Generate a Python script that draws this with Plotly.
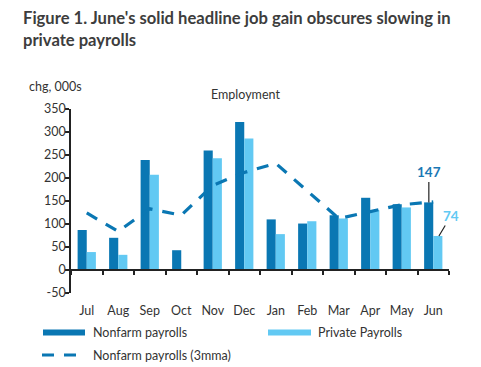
import plotly.graph_objects as go

months = ["Jul", "Aug", "Sep", "Oct", "Nov", "Dec", "Jan", "Feb", "Mar", "Apr", "May", "Jun"]
nonfarm = [87, 70, 239, 43, 260, 322, 110, 101, 119, 157, 143, 147]
private = [39, 33, 207, 0, 243, 286, 78, 106, 112, 130, 136, 74]
nonfarm_3mma = [124, 84, 133, 119, 184, 212, 232, 173, 112, 127, 142, 148]
y_ticks = [-50, 0, 50, 100, 150, 200, 250, 300, 350]
y_tick_labels = ["-50", "0", "50", "100", "150", "200", "250", "300", "350"]

DARK = "#0a77b3"
LIGHT = "#62c9f3"
TXT = "#333333"
FONT = "Lato"

# page body has an 8px margin; size the figure so it fills the rest of the 481x367 window
OFF = 8
W, H = 481 - OFF, 367 - OFF
ML, MT = 71 - OFF, 109 - OFF
MR = W - (449 - OFF)
MB = H - (293 - OFF)
PW, PH = W - ML - MR, H - MT - MB


def px(x):
    return (x - OFF - ML) / PW


def py(y):
    return (H - MB - (y - OFF)) / PH


fig = go.Figure()
fig.add_trace(go.Bar(x=months, y=nonfarm, name="Nonfarm payrolls", marker_color=DARK,
                     marker_line_width=0))
fig.add_trace(go.Bar(x=months, y=private, name="Private Payrolls", marker_color=LIGHT,
                     marker_line_width=0))
fig.add_trace(go.Scatter(x=months, y=nonfarm_3mma, name="Nonfarm payrolls (3mma)", mode="lines",
                         line=dict(color=DARK, width=3.2, dash="12px,10px")))

fig.update_layout(
    width=W, height=H,
    margin=dict(l=ML, r=MR, t=MT, b=MB),
    paper_bgcolor="white", plot_bgcolor="white",
    barmode="group", bargap=0.42, bargroupgap=0,
    showlegend=False,
    font=dict(family=FONT, size=12, color=TXT),
    xaxis=dict(type="category", range=[-0.5, 11.5], anchor="free", position=0.125,
               showline=True, linecolor="#222222", linewidth=1.5,
               ticks="outside", tickson="boundaries", ticklen=4, tickcolor="#222222",
               tickwidth=1.5, showgrid=False, zeroline=False, automargin=False, tickangle=0,
               ticklabelstandoff=29, tickfont=dict(size=12.5, color=TXT)),
    yaxis=dict(range=[-50, 350], tickvals=y_ticks, ticktext=y_tick_labels, showline=True,
               linecolor="#222222", automargin=False, ticklabelstandoff=-3,
               linewidth=1.5, ticks="outside", ticklen=4, tickcolor="#222222", tickwidth=1.5,
               showgrid=False, zeroline=False, tickfont=dict(size=12.5, color=TXT)),
)

ann = []
ann.append(dict(text="<b>Figure 1. June's solid headline job gain obscures slowing in<br>private payrolls</b>",
                x=px(21), y=py(6), xref="paper", yref="paper", xanchor="left", yanchor="top",
                align="left", showarrow=False,
                font=dict(family=FONT, size=16.6, color="#3d3d3d")))
ann.append(dict(text="chg, 000s", x=px(27), y=py(87), xref="paper", yref="paper",
                xanchor="left", yanchor="middle", showarrow=False, font=dict(size=12.5, color=TXT)))
ann.append(dict(text="Employment", x=px(245), y=py(94), xref="paper", yref="paper",
                xanchor="center", yanchor="middle", showarrow=False, font=dict(size=12.5, color=TXT)))
# data labels
ann.append(dict(text="<b>147</b>", x=10.86, y=nonfarm[-1], xref="x", yref="y", showarrow=True,
                arrowhead=0, arrowwidth=1.2, arrowcolor="#222222", ax=0, ay=-30,
                font=dict(size=13.5, color="#1a78b4")))
ann.append(dict(text="<b>74</b>", x=11.18, y=private[-1], xref="x", yref="y", showarrow=True,
                arrowhead=0, arrowwidth=1.2, arrowcolor="#222222", ax=12, ay=-20,
                font=dict(size=13.5, color=LIGHT)))

# legend (drawn)
shapes = []
shapes.append(dict(type="rect", xref="paper", yref="paper", x0=px(43), x1=px(85), y0=py(329.5), y1=py(335.5),
                   fillcolor=DARK, line_width=0))
shapes.append(dict(type="rect", xref="paper", yref="paper", x0=px(268), x1=px(311), y0=py(329.5), y1=py(335.5),
                   fillcolor=LIGHT, line_width=0))
shapes.append(dict(type="line", xref="paper", yref="paper", x0=px(42), x1=px(79), y0=py(355), y1=py(355),
                   line=dict(color=DARK, width=3.2, dash="12px,10px")))
ann.append(dict(text="Nonfarm payrolls", x=px(91), y=py(332.5), xref="paper", yref="paper",
                xanchor="left", yanchor="middle", showarrow=False, font=dict(size=12.5, color=TXT)))
ann.append(dict(text="Private Payrolls", x=px(316), y=py(332.5), xref="paper", yref="paper",
                xanchor="left", yanchor="middle", showarrow=False, font=dict(size=12.5, color=TXT)))
ann.append(dict(text="Nonfarm payrolls (3mma)", x=px(91), y=py(355), xref="paper", yref="paper",
                xanchor="left", yanchor="middle", showarrow=False, font=dict(size=12.5, color=TXT)))

fig.update_layout(annotations=ann, shapes=shapes)
fig.write_html("out.html")
